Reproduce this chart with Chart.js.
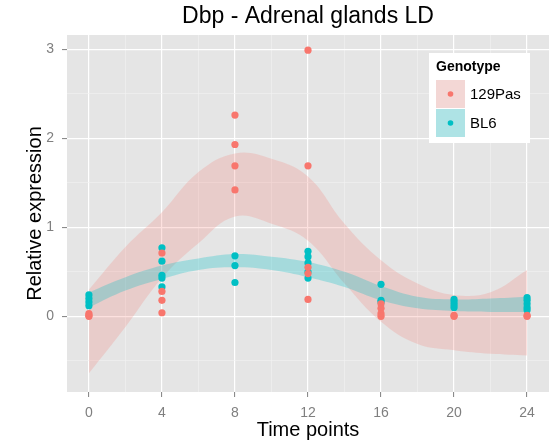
<!DOCTYPE html>
<html>
<head>
<meta charset="utf-8">
<script src="https://cdn.jsdelivr.net/npm/chart.js@4/dist/chart.umd.min.js"></script>
<style>
  html, body { margin: 0; padding: 0; background: #ffffff; }
  #wrap { width: 553px; height: 442px; position: relative; }
</style>
</head>
<body>
<div id="wrap"><canvas id="c" width="553" height="442"></canvas></div>
<script>
// ---- Data ----
const chartTitle = "Dbp - Adrenal glands LD";
const xTitle = "Time points";
const yTitle = "Relative expression";
const legendTitle = "Genotype";
const seriesNames = ["129Pas", "BL6"];

const xMajorTicks = [0, 4, 8, 12, 16, 20, 24];
const xMinorTicks = [2, 6, 10, 14, 18, 22];
const yMajorTicks = [0, 1, 2, 3];
const yMinorTicks = [-0.5, 0.5, 1.5, 2.5];

// 129Pas replicate measurements
const pasTime  = [0, 0, 0,  4, 4, 4, 4,  8, 8, 8, 8,  12, 12, 12, 12, 12,  16, 16, 16, 16,  20, 20,  24, 24];
const pasValue = [0.03, 0.01, 0.00,  0.71, 0.28, 0.18, 0.04,  2.26, 1.93, 1.69, 1.42,  2.99, 1.69, 0.55, 0.48, 0.19,  0.14, 0.09, 0.03, 0.00,  0.01, 0.00,  0.01, 0.00];

// BL6 replicate measurements
const bl6Time  = [0, 0, 0, 0,  4, 4, 4, 4, 4,  8, 8, 8,  12, 12, 12, 12, 12,  16, 16, 16,  20, 20, 20, 20,  24, 24, 24, 24, 24];
const bl6Value = [0.24, 0.20, 0.16, 0.12,  0.77, 0.62, 0.46, 0.43, 0.33,  0.68, 0.57, 0.38,  0.73, 0.67, 0.60, 0.50, 0.43,  0.36, 0.18, 0.16,  0.19, 0.16, 0.13, 0.10,  0.21, 0.18, 0.14, 0.10, 0.07];

// Smoother confidence bands (read at sampled time points)
const bandTime  = [0, 2, 4, 6, 8, 10, 12, 14, 16, 18, 20, 22, 24];
const pasUpper  = [0.30, 0.78, 1.17, 1.62, 1.83, 1.77, 1.57, 1.04, 0.63, 0.37, 0.24, 0.27, 0.52];
const pasLower  = [-0.64, -0.12, 0.43, 0.82, 1.12, 1.04, 0.85, 0.37, -0.06, -0.31, -0.38, -0.42, -0.44];
const bl6Upper  = [0.27, 0.44, 0.57, 0.65, 0.70, 0.67, 0.61, 0.50, 0.34, 0.22, 0.19, 0.20, 0.22];
const bl6Lower  = [0.10, 0.29, 0.42, 0.52, 0.55, 0.52, 0.44, 0.33, 0.18, 0.09, 0.06, 0.05, 0.05];

// ---- Styles ----
const FONT = "'Liberation Sans', Arial, Helvetica, sans-serif";
const RED = "#F8766D";
const CYAN = "#00BFC4";
const RED_BAND = "rgba(248,118,109,0.22)";
const CYAN_BAND = "rgba(0,191,196,0.28)";
const PANEL_BG = "#E5E5E5";
const MINOR_GRID = "#F2F2F2";
const TICK_GREY = "#7F7F7F";

const zip = (xs, ys) => xs.map((x, i) => ({ x: x, y: ys[i] }));

const bandStyle = { showLine: true, pointRadius: 0, pointHoverRadius: 0, borderWidth: 0, tension: 0.4, borderColor: 'rgba(0,0,0,0)' };

const panelBg = {
  id: 'panelBg',
  beforeDraw(chart) {
    const a = chart.chartArea, ctx = chart.ctx;
    ctx.save();
    ctx.fillStyle = PANEL_BG;
    ctx.fillRect(a.left, a.top, a.right - a.left, a.bottom - a.top);
    ctx.restore();
  }
};

const titleAndLegend = {
  id: 'titleAndLegend',
  afterDraw(chart) {
    const a = chart.chartArea, ctx = chart.ctx;
    ctx.save();
    // title
    ctx.fillStyle = "#000";
    ctx.font = "23px " + FONT;
    ctx.textAlign = "center";
    ctx.textBaseline = "middle";
    ctx.fillText(chartTitle, (a.left + a.right) / 2, 17);
    // legend box
    const lx = 429, ly = 53, lw = 101, lh = 90;
    ctx.fillStyle = "#FFFFFF";
    ctx.fillRect(lx, ly, lw, lh);
    ctx.fillStyle = "#000";
    ctx.font = "bold 14px " + FONT;
    ctx.textAlign = "left";
    ctx.fillText(legendTitle, 436, 67);
    const keys = [[RED_BAND, RED, 80], [CYAN_BAND, CYAN, 109]];
    keys.forEach((k, i) => {
      ctx.fillStyle = "#F2F2F2";
      ctx.fillRect(436, k[2], 29, 28);
      ctx.fillStyle = k[0];
      ctx.fillRect(436, k[2], 29, 28);
      ctx.beginPath();
      ctx.arc(450.5, k[2] + 14, 2.8, 0, Math.PI * 2);
      ctx.fillStyle = k[1];
      ctx.fill();
      ctx.fillStyle = "#000";
      ctx.font = "15px " + FONT;
      ctx.fillText(seriesNames[i], 470, k[2] + 14.5);
    });
    ctx.restore();
  }
};

new Chart(document.getElementById('c'), {
  type: 'scatter',
  data: {
    datasets: [
      { label: '129Pas', data: zip(pasTime, pasValue), backgroundColor: RED, borderWidth: 0, pointRadius: 3.6, showLine: false },
      { label: 'BL6', data: zip(bl6Time, bl6Value), backgroundColor: CYAN, borderWidth: 0, pointRadius: 3.6, showLine: false },
      Object.assign({ label: 'BL6 band upper', data: zip(bandTime, bl6Upper), fill: { target: '+1' }, backgroundColor: CYAN_BAND }, bandStyle),
      Object.assign({ label: 'BL6 band lower', data: zip(bandTime, bl6Lower), fill: false }, bandStyle),
      Object.assign({ label: '129Pas band upper', data: zip(bandTime, pasUpper), fill: { target: '+1' }, backgroundColor: RED_BAND }, bandStyle),
      Object.assign({ label: '129Pas band lower', data: zip(bandTime, pasLower), fill: false }, bandStyle)
    ]
  },
  options: {
    responsive: false,
    animation: false,
    events: [],
    layout: { padding: { top: 35, right: 3, left: 0, bottom: 0 } },
    plugins: { legend: { display: false }, tooltip: { enabled: false }, title: { display: false } },
    scales: {
      x: {
        type: 'linear',
        min: -1.2, max: 25.2,
        afterBuildTicks(scale) {
          scale.ticks = xMajorTicks.concat(xMinorTicks).sort((p, q) => p - q).map(v => ({ value: v }));
        },
        afterFit(scale) { scale.height = 50; },
        ticks: {
          color: TICK_GREY,
          font: { family: FONT, size: 14 },
          padding: 8,
          maxRotation: 0,
          autoSkip: false,
          callback: (v) => xMajorTicks.includes(v) ? String(v) : ''
        },
        grid: {
          color: (c) => xMajorTicks.includes(c.tick && c.tick.value) ? '#FFFFFF' : MINOR_GRID,
          lineWidth: (c) => xMajorTicks.includes(c.tick && c.tick.value) ? 1.2 : 0.6,
          tickColor: (c) => xMajorTicks.includes(c.tick && c.tick.value) ? TICK_GREY : 'rgba(0,0,0,0)',
          tickLength: 5,
          tickWidth: 1,
          drawTicks: true
        },
        border: { display: false },
        title: { display: true, text: xTitle, color: '#000', font: { family: FONT, size: 20 }, padding: { top: 0, bottom: 0 } }
      },
      y: {
        type: 'linear',
        min: -0.85, max: 3.16,
        afterBuildTicks(scale) {
          scale.ticks = yMajorTicks.concat(yMinorTicks).sort((p, q) => p - q).map(v => ({ value: v }));
        },
        afterFit(scale) { scale.width = 67; },
        ticks: {
          color: TICK_GREY,
          font: { family: FONT, size: 14 },
          padding: 8,
          autoSkip: false,
          callback: (v) => yMajorTicks.includes(v) ? String(v) : ''
        },
        grid: {
          color: (c) => yMajorTicks.includes(c.tick && c.tick.value) ? '#FFFFFF' : MINOR_GRID,
          lineWidth: (c) => yMajorTicks.includes(c.tick && c.tick.value) ? 1.2 : 0.6,
          tickColor: (c) => yMajorTicks.includes(c.tick && c.tick.value) ? TICK_GREY : 'rgba(0,0,0,0)',
          tickLength: 5,
          tickWidth: 1,
          drawTicks: true
        },
        border: { display: false },
        title: { display: true, text: yTitle, color: '#000', font: { family: FONT, size: 20 }, padding: { top: 23, bottom: 0 } }
      }
    }
  },
  plugins: [panelBg, titleAndLegend]
});
</script>
</body>
</html>
